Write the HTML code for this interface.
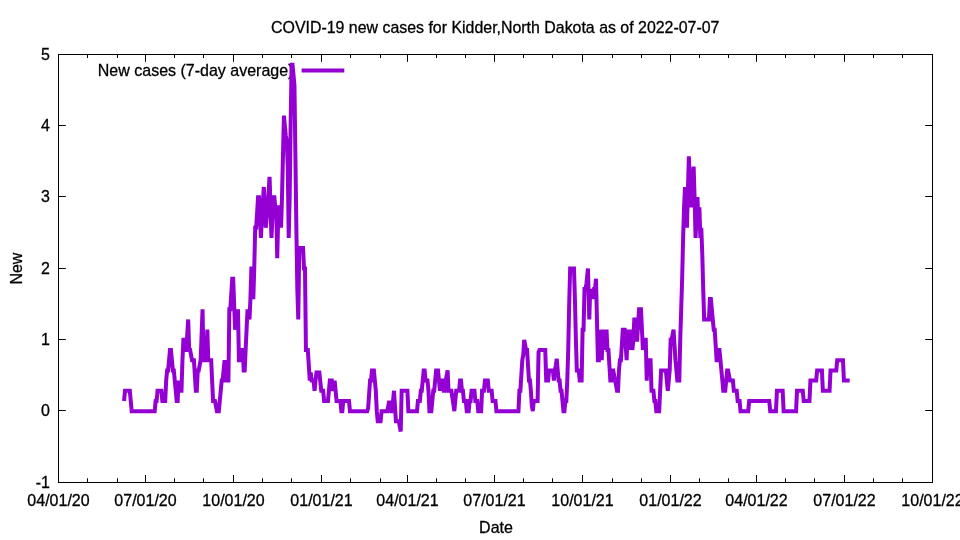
<!DOCTYPE html><html><head><meta charset="utf-8"><title>COVID-19 new cases</title>
<style>html,body{margin:0;padding:0;background:#fff}svg{display:block;will-change:transform}text{font-family:"Liberation Sans",Arial,sans-serif;font-size:16.6px;fill:#000;stroke:#000;stroke-width:0.3px}</style></head><body>
<svg width="960" height="540" viewBox="0 0 960 540">
<rect width="960" height="540" fill="#fff"/>
<text x="495.25" y="32.8" text-anchor="middle" textLength="448.4" lengthAdjust="spacingAndGlyphs">COVID-19 new cases for Kidder,North Dakota as of 2022-07-07</text>
<text x="50" y="488.0" text-anchor="end" textLength="14.23" lengthAdjust="spacingAndGlyphs">-1</text>
<text x="50" y="416.0" text-anchor="end" textLength="8.90" lengthAdjust="spacingAndGlyphs">0</text>
<text x="50" y="345.0" text-anchor="end" textLength="8.90" lengthAdjust="spacingAndGlyphs">1</text>
<text x="50" y="274.0" text-anchor="end" textLength="8.90" lengthAdjust="spacingAndGlyphs">2</text>
<text x="50" y="202.0" text-anchor="end" textLength="8.90" lengthAdjust="spacingAndGlyphs">3</text>
<text x="50" y="131.0" text-anchor="end" textLength="8.90" lengthAdjust="spacingAndGlyphs">4</text>
<text x="50" y="60.0" text-anchor="end" textLength="8.90" lengthAdjust="spacingAndGlyphs">5</text>
<text x="58.5" y="506" text-anchor="middle" textLength="62.28" lengthAdjust="spacingAndGlyphs">04/01/20</text>
<text x="145.5" y="506" text-anchor="middle" textLength="62.28" lengthAdjust="spacingAndGlyphs">07/01/20</text>
<text x="233.5" y="506" text-anchor="middle" textLength="62.28" lengthAdjust="spacingAndGlyphs">10/01/20</text>
<text x="321.5" y="506" text-anchor="middle" textLength="62.28" lengthAdjust="spacingAndGlyphs">01/01/21</text>
<text x="407.5" y="506" text-anchor="middle" textLength="62.28" lengthAdjust="spacingAndGlyphs">04/01/21</text>
<text x="494.5" y="506" text-anchor="middle" textLength="62.28" lengthAdjust="spacingAndGlyphs">07/01/21</text>
<text x="582.5" y="506" text-anchor="middle" textLength="62.28" lengthAdjust="spacingAndGlyphs">10/01/21</text>
<text x="670.5" y="506" text-anchor="middle" textLength="62.28" lengthAdjust="spacingAndGlyphs">01/01/22</text>
<text x="756.5" y="506" text-anchor="middle" textLength="62.28" lengthAdjust="spacingAndGlyphs">04/01/22</text>
<text x="844.5" y="506" text-anchor="middle" textLength="62.28" lengthAdjust="spacingAndGlyphs">07/01/22</text>
<text x="932.5" y="506" text-anchor="middle" textLength="62.28" lengthAdjust="spacingAndGlyphs">10/01/22</text>
<path d="M58.5,482.5h7.3M932.5,482.5h-7.3M58.5,410.5h7.3M932.5,410.5h-7.3M58.5,339.5h7.3M932.5,339.5h-7.3M58.5,268.5h7.3M932.5,268.5h-7.3M58.5,196.5h7.3M932.5,196.5h-7.3M58.5,125.5h7.3M932.5,125.5h-7.3M58.5,54.5h7.3M932.5,54.5h-7.3M58.5,482.5v-7.5M58.5,54.5v7.3M145.5,482.5v-7.5M145.5,54.5v7.3M233.5,482.5v-7.5M233.5,54.5v7.3M321.5,482.5v-7.5M321.5,54.5v7.3M407.5,482.5v-7.5M407.5,54.5v7.3M494.5,482.5v-7.5M494.5,54.5v7.3M582.5,482.5v-7.5M582.5,54.5v7.3M670.5,482.5v-7.5M670.5,54.5v7.3M756.5,482.5v-7.5M756.5,54.5v7.3M844.5,482.5v-7.5M844.5,54.5v7.3M932.5,482.5v-7.5M932.5,54.5v7.3M87.5,482.5v-4.2M87.5,54.5v3.5M117.5,482.5v-4.2M117.5,54.5v3.5M174.5,482.5v-4.2M174.5,54.5v3.5M203.5,482.5v-4.2M203.5,54.5v3.5M262.5,482.5v-4.2M262.5,54.5v3.5M291.5,482.5v-4.2M291.5,54.5v3.5M350.5,482.5v-4.2M350.5,54.5v3.5M380.5,482.5v-4.2M380.5,54.5v3.5M436.5,482.5v-4.2M436.5,54.5v3.5M465.5,482.5v-4.2M465.5,54.5v3.5M523.5,482.5v-4.2M523.5,54.5v3.5M552.5,482.5v-4.2M552.5,54.5v3.5M612.5,482.5v-4.2M612.5,54.5v3.5M641.5,482.5v-4.2M641.5,54.5v3.5M699.5,482.5v-4.2M699.5,54.5v3.5M728.5,482.5v-4.2M728.5,54.5v3.5M785.5,482.5v-4.2M785.5,54.5v3.5M814.5,482.5v-4.2M814.5,54.5v3.5M873.5,482.5v-4.2M873.5,54.5v3.5M902.5,482.5v-4.2M902.5,54.5v3.5" stroke="#000" stroke-width="1" fill="none"/>
<text x="496" y="533" text-anchor="middle" textLength="33.8" lengthAdjust="spacingAndGlyphs">Date</text>
<text transform="translate(22.3,268.6) rotate(-90)" text-anchor="middle" textLength="32" lengthAdjust="spacingAndGlyphs">New</text>
<text x="97.8" y="75.8" textLength="195.6" lengthAdjust="spacingAndGlyphs">New cases (7-day average)</text>
<path d="M301.6,70.4H344.3" stroke="#9400d3" stroke-width="4" fill="none"/>
<polyline points="124.05,400.98 125.01,390.79 129.80,390.79 131.71,411.17 154.69,411.17 155.64,400.98 156.60,400.98 157.56,390.79 161.39,390.79 162.34,400.98 165.22,400.98 166.17,380.60 167.13,370.40 168.09,370.40 169.04,360.21 170.00,350.02 170.96,350.02 171.92,360.21 172.87,370.40 173.83,370.40 174.79,380.60 175.75,390.79 176.70,400.98 177.66,400.98 178.62,380.60 179.58,390.79 181.49,390.79 182.45,360.21 183.40,339.83 184.36,339.83 185.32,350.02 186.28,350.02 187.23,334.74 188.19,319.45 189.15,350.02 190.11,350.02 191.06,355.12 192.02,360.21 193.93,360.21 194.89,375.50 195.85,390.79 196.81,390.79 197.76,370.40 198.72,370.40 199.68,365.31 200.64,360.21 201.59,334.74 202.55,309.26 203.51,360.21 206.38,360.21 207.34,329.64 208.29,360.21 211.17,360.21 212.12,380.60 213.08,400.98 214.99,400.98 216.91,411.17 217.87,411.17 218.82,411.17 219.78,400.98 220.74,390.79 221.70,380.60 222.65,380.60 223.61,370.40 224.57,360.21 225.52,370.40 226.48,380.60 228.40,380.60 229.35,309.26 230.31,309.26 231.27,293.98 232.23,278.69 233.18,278.69 234.14,304.17 235.10,329.64 236.05,322.51 237.01,316.40 237.97,309.26 238.93,360.21 239.88,360.21 240.84,350.02 242.76,350.02 243.71,370.40 244.67,370.40 245.63,350.02 246.58,329.64 247.54,309.26 248.50,315.38 249.46,319.45 250.41,299.07 251.37,268.50 252.33,268.50 253.29,299.07 254.24,268.50 255.20,227.74 256.16,227.74 257.12,212.45 258.07,197.17 259.03,197.17 259.99,217.55 260.94,237.93 261.90,217.55 262.86,202.26 263.82,186.98 264.77,207.36 265.73,227.74 266.69,217.55 267.65,207.36 268.60,192.07 269.56,176.79 270.52,207.36 271.47,237.93 272.43,217.55 273.39,197.17 274.35,197.17 275.30,207.36 276.26,207.36 277.22,258.31 278.18,217.55 279.13,207.36 280.09,207.36 281.05,227.74 282.00,197.17 282.96,156.40 283.92,115.64 284.88,125.83 285.83,136.02 286.79,141.12 287.75,166.60 288.71,237.93 289.66,197.17 290.62,125.83 291.58,64.69 292.53,64.69 293.49,74.88 294.45,85.07 295.41,156.40 296.36,227.74 297.32,288.88 298.28,319.45 299.24,248.12 303.06,248.12 304.02,268.50 304.98,268.50 305.94,350.02 307.85,350.02 308.81,365.31 309.77,380.60 310.72,372.44 311.68,380.60 313.59,380.60 314.55,390.79 315.51,380.60 316.47,372.44 319.34,372.44 320.30,381.61 321.25,390.79 323.17,390.79 324.12,400.98 327.95,400.98 328.91,390.79 329.87,380.60 331.78,380.60 332.74,390.79 333.70,385.69 334.65,380.60 335.61,390.79 336.57,400.98 340.40,400.98 341.36,411.17 342.31,411.17 343.27,400.98 349.01,400.98 349.97,411.17 367.20,411.17 368.16,408.11 369.12,393.84 370.07,380.60 371.03,380.60 371.99,370.40 373.90,370.40 374.86,380.60 375.82,390.79 376.78,411.17 377.73,421.36 380.60,421.36 381.56,411.17 387.31,411.17 388.26,406.07 389.22,400.98 390.18,406.07 391.13,411.17 392.09,411.17 393.05,400.98 394.01,390.79 394.96,406.07 395.92,421.36 398.79,421.36 399.75,426.45 400.71,431.55 401.66,390.79 407.41,390.79 408.37,411.17 416.98,411.17 417.94,400.98 419.85,400.98 420.81,390.79 421.77,390.79 422.73,380.60 423.68,370.40 424.64,370.40 425.60,380.60 427.51,380.60 428.47,390.79 429.43,411.17 431.34,411.17 432.30,400.98 433.26,390.79 434.21,390.79 435.17,380.60 436.13,370.40 438.04,370.40 439.00,380.60 439.96,390.79 440.91,380.60 442.83,380.60 443.79,390.79 444.74,390.79 445.70,380.60 446.66,375.50 447.61,370.40 448.57,390.79 451.44,390.79 452.40,397.92 453.36,404.03 454.32,411.17 455.27,400.98 456.23,390.79 459.10,390.79 460.06,380.60 461.02,380.60 461.97,390.79 462.93,390.79 463.89,400.98 465.80,400.98 466.76,411.17 468.67,411.17 469.63,400.98 470.59,400.98 471.55,390.79 474.42,390.79 475.38,400.98 477.29,400.98 478.25,411.17 481.12,411.17 482.08,390.79 483.99,390.79 484.95,380.60 487.82,380.60 488.78,390.79 491.65,390.79 492.61,400.98 495.48,400.98 496.44,411.17 518.45,411.17 519.41,390.79 520.37,390.79 521.33,375.50 522.28,360.21 523.24,355.12 524.20,339.83 525.15,344.93 526.11,350.02 527.07,350.02 528.03,365.31 528.98,380.60 529.94,380.60 530.90,390.79 531.86,406.07 532.81,411.17 533.77,400.98 537.60,400.98 538.56,352.06 539.51,350.02 545.26,350.02 546.21,380.60 548.13,380.60 549.09,370.40 552.92,370.40 553.87,380.60 554.83,370.40 555.79,365.31 556.74,358.69 557.70,370.40 558.66,380.60 559.62,380.60 560.57,390.79 561.53,390.79 562.49,400.98 563.45,411.17 564.40,411.17 565.36,400.98 566.32,400.98 567.27,380.60 568.23,350.02 569.19,304.17 570.15,268.50 573.98,268.50 574.93,299.07 575.89,339.83 576.85,370.40 577.81,370.40 578.76,370.40 579.72,380.60 581.63,380.60 582.59,329.64 583.55,329.64 584.51,288.88 585.46,288.88 586.42,283.79 587.95,268.50 589.29,319.45 590.25,288.88 591.21,299.07 592.16,288.88 593.12,299.07 594.08,288.88 595.04,288.88 595.99,278.69 596.95,319.45 597.91,360.21 598.87,360.21 599.82,331.68 600.78,331.68 601.74,360.21 602.69,329.64 603.65,350.02 604.61,329.64 605.57,350.02 606.52,329.64 607.48,350.02 608.44,350.02 609.40,365.31 610.35,380.60 611.31,380.60 612.27,370.40 613.22,370.40 614.18,375.50 615.14,380.60 616.10,385.69 617.05,390.79 618.01,390.79 618.97,370.40 619.93,360.21 620.88,360.21 621.84,344.93 622.80,329.64 624.71,329.64 625.67,344.93 626.63,360.21 627.58,329.64 628.54,350.02 629.50,329.64 630.46,350.02 631.41,329.64 632.37,350.02 633.33,339.83 634.28,319.45 635.24,319.45 636.20,339.83 637.16,339.83 638.11,324.55 639.07,309.26 640.99,309.26 641.94,329.64 642.90,350.02 643.86,339.83 645.77,339.83 646.73,380.60 647.69,360.21 650.56,360.21 651.52,390.79 653.43,390.79 654.39,400.98 655.35,400.98 656.30,411.17 659.17,411.17 660.13,390.79 661.09,370.40 665.88,370.40 666.83,380.60 667.79,390.79 668.75,380.60 669.70,370.40 670.66,339.83 671.62,339.83 672.58,334.74 673.53,329.64 674.49,344.93 675.45,360.21 676.41,370.40 677.36,380.60 679.28,380.60 680.23,339.83 681.19,309.26 682.15,278.69 683.11,237.93 684.06,207.36 685.02,186.98 685.98,207.36 686.94,227.74 687.89,192.07 688.85,156.40 689.81,181.88 690.76,207.36 691.72,192.07 692.68,176.79 693.64,166.60 694.59,197.17 695.55,237.93 696.51,217.55 697.47,197.17 698.42,227.74 699.38,207.36 700.34,237.93 701.29,227.74 702.25,253.21 703.21,288.88 704.17,319.45 708.95,319.45 709.91,299.07 710.87,299.07 711.82,309.26 712.78,319.45 713.74,329.64 714.70,329.64 715.65,344.93 716.61,360.21 717.57,360.21 718.53,350.02 719.48,350.02 720.44,360.21 721.40,370.40 722.35,380.60 723.31,390.79 725.23,390.79 726.18,380.60 727.14,370.40 728.10,370.40 729.06,375.50 730.01,380.60 732.88,380.60 733.84,390.79 736.71,390.79 737.67,400.98 739.59,400.98 740.54,411.17 748.20,411.17 749.16,400.98 769.26,400.98 770.22,411.17 775.96,411.17 776.92,390.79 782.66,390.79 783.62,411.17 796.07,411.17 797.02,390.79 802.77,390.79 803.72,400.98 809.47,400.98 810.42,380.60 816.17,380.60 817.13,370.40 821.91,370.40 822.87,390.79 829.57,390.79 830.53,370.40 836.27,370.40 837.23,360.21 842.97,360.21 843.93,380.60 849.67,380.60" stroke="#9400d3" stroke-width="4" fill="none" stroke-linejoin="miter" stroke-miterlimit="3.8" stroke-linecap="butt"/>
<rect x="58.5" y="54.5" width="874.0" height="428.0" fill="none" stroke="#000" stroke-width="1"/>
</svg></body></html>
